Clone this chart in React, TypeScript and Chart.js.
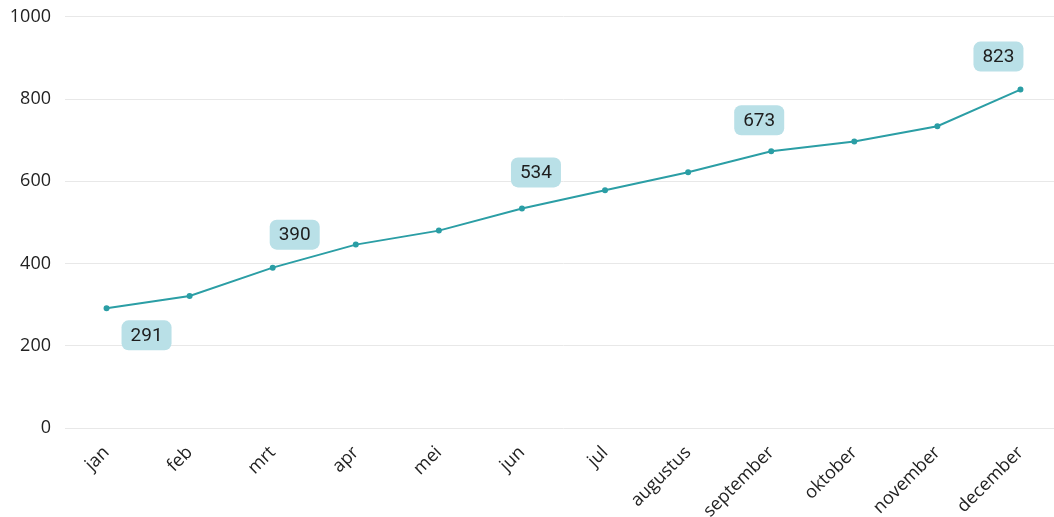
import React, { useEffect, useRef } from "react";
import { Chart, registerables } from "chart.js";

Chart.register(...registerables);

const months = ["jan", "feb", "mrt", "apr", "mei", "jun", "jul", "augustus", "september", "oktober", "november", "december"];
const values = [291, 321, 390, 446, 480, 534, 578, 622, 673, 697, 734, 823];
const labeledIdx = [0, 2, 5, 8, 11];
const yTicks = [0, 200, 400, 600, 800, 1000];

const labelPlugin = {
  id: "valueBoxes",
  afterDatasetsDraw(chart: any) {
    const meta = chart.getDatasetMeta(0);
    const ctx = chart.ctx;
    const dx: Record<number, number> = { 0: 40, 2: 22, 5: 14, 8: -12, 11: -22 };
    const dy: Record<number, number> = { 0: 27, 2: -33, 5: -36, 8: -31, 11: -33 };
    ctx.save();
    ctx.font = "19px Roboto";
    ctx.textAlign = "center";
    ctx.textBaseline = "middle";
    labeledIdx.forEach((i) => {
      const p = meta.data[i];
      const cx = p.x + (dx[i] ?? 0);
      const cy = p.y + (dy[i] ?? -33);
      const w = 50, h = 30, r = 7;
      ctx.fillStyle = "#b9e0e7";
      ctx.beginPath();
      ctx.roundRect(cx - w / 2, cy - h / 2, w, h, r);
      ctx.fill();
      ctx.fillStyle = "#1e1e1e";
      ctx.fillText(String(values[i]), cx, cy + 1);
    });
    ctx.restore();
  },
};

export default function App() {
  const ref = useRef<HTMLCanvasElement | null>(null);
  useEffect(() => {
    document.body.style.margin = "0";
    document.body.style.overflow = "hidden";
    const chart = new Chart(ref.current!, {
      type: "line",
      data: {
        labels: months,
        datasets: [
          {
            data: values,
            borderColor: "#2b9ea5",
            backgroundColor: "#2b9ea5",
            borderWidth: 2,
            pointRadius: 2,
            pointHoverRadius: 2,
            tension: 0,
          },
        ],
      },
      options: {
        animation: false,
        responsive: true,
        maintainAspectRatio: false,
        layout: { padding: { top: 2, left: 0, right: 0, bottom: 0 } },
        plugins: { legend: { display: false }, tooltip: { enabled: false } },
        scales: {
          x: {
            offset: true,
            grid: { display: false, drawTicks: false },
            border: { display: false },
            ticks: {
              maxRotation: 45,
              minRotation: 45,
              padding: 14,
              color: "#222",
              font: { family: "Open Sans", size: 18 },
              autoSkip: false,
            },
            afterFit: (s: any) => {
              s.height = 102;
            },
          },
          y: {
            min: 0,
            max: 1000,
            afterBuildTicks: (s: any) => {
              s.ticks = yTicks.map((v) => ({ value: v }));
            },
            grid: { color: "#e8e8e8", drawTicks: false, lineWidth: 1 },
            border: { display: false },
            ticks: {
              padding: 14,
              color: "#222",
              font: { family: "Open Sans", size: 18 },
              callback: (v: any) => String(v),
            },
            afterFit: (s: any) => {
              s.width = 65;
            },
          },
        },
      },
      plugins: [labelPlugin],
    });
    return () => chart.destroy();
  }, []);
  return (
    <div style={{ position: "fixed", left: 0, top: -8, width: 1066, height: 538 }}>
      <canvas ref={ref} />
    </div>
  );
}
